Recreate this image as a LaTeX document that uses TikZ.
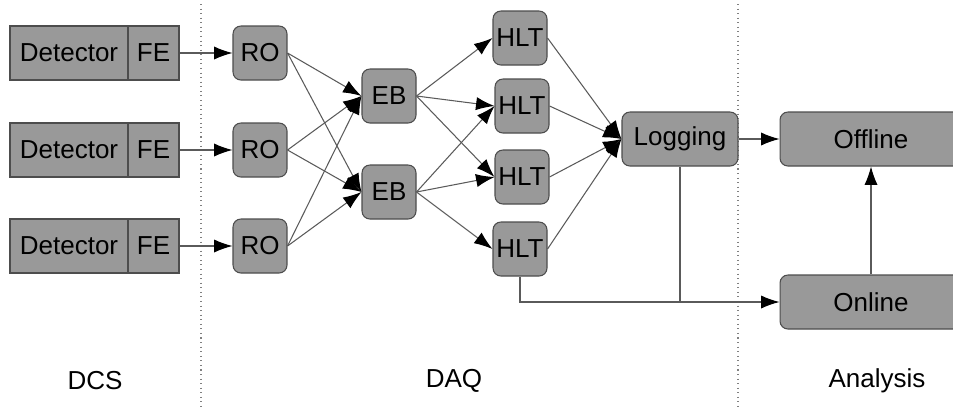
\documentclass[tikz,border=0pt]{standalone}
\usepackage{fontspec}
\setmainfont{Liberation Sans}
\usetikzlibrary{arrows.meta}
\definecolor{boxgray}{HTML}{999999}
\definecolor{edgegray}{HTML}{4D4D4D}
\definecolor{linegray}{HTML}{5A5A5A}
\begin{document}
\begin{tikzpicture}[x=0.02cm, y=-0.02cm,
  box/.style={draw=edgegray, fill=boxgray, line width=0.6pt, inner sep=0pt,
    minimum height=1.08cm, font=\fontsize{14.8pt}{17pt}\selectfont},
  rbox/.style={box, rounded corners=4.5pt, minimum width=1.08cm},
  arr/.style={draw=linegray, line width=0.6pt, -{Latex[length=10.5pt,width=7.5pt,color=black]}},
  ln/.style={draw=linegray, line width=0.6pt},
  sep/.style={draw=gray, dotted, line width=0.6pt},
  lbl/.style={font=\fontsize{14.8pt}{17pt}\selectfont}]
\clip (0,0) rectangle (953,410);
% section separators
\coordinate (s1top) at (201,4);
\coordinate (s1bot) at (201,410);
\coordinate (s2top) at (738,4);
\coordinate (s2bot) at (738,410);
\draw[sep] (s1top) -- (s1bot);
\draw[sep] (s2top) -- (s2bot);
% detectors
\node[box, minimum width=2.36cm] (det1) at (69,53){Detector};
\node[box, minimum width=1.02cm] (fe1) at (153.5,53){FE};
\node[box, minimum width=2.36cm] (det2) at (69,150){Detector};
\node[box, minimum width=1.02cm] (fe2) at (153.5,150){FE};
\node[box, minimum width=2.36cm] (det3) at (69,246){Detector};
\node[box, minimum width=1.02cm] (fe3) at (153.5,246){FE};
% readout
\node[rbox] (ro1) at (260,53){RO};
\node[rbox] (ro2) at (260,150){RO};
\node[rbox] (ro3) at (260,246){RO};
\draw[arr](fe1) -- (ro1);
\draw[arr](fe2) -- (ro2);
\draw[arr](fe3) -- (ro3);
% event builders
\node[rbox] (eb1) at (389,96){EB};
\node[rbox] (eb2) at (389,192){EB};
\draw[arr](ro1.east) -- (eb1.west);
\draw[arr](ro1.east) -- (eb2.west);
\draw[arr](ro2.east) -- (eb1.west);
\draw[arr](ro2.east) -- (eb2.west);
\draw[arr](ro3.east) -- (eb1.west);
\draw[arr](ro3.east) -- (eb2.west);
% high level triggers
\node[rbox] (hlt1) at (520,38){HLT};
\node[rbox] (hlt2) at (522,106){HLT};
\node[rbox] (hlt3) at (522,177){HLT};
\node[rbox] (hlt4) at (520,249){HLT};
\draw[arr](eb1.east) -- (hlt1.west);
\draw[arr](eb1.east) -- (hlt2.west);
\draw[arr](eb1.east) -- (hlt3.west);
\draw[arr](eb2.east) -- (hlt2.west);
\draw[arr](eb2.east) -- (hlt3.west);
\draw[arr](eb2.east) -- (hlt4.west);
% logging and analysis
\node[rbox, minimum width=2.32cm] (logging) at (680,139){Logging};
\node[rbox, minimum width=3.64cm] (offline) at (871,139){Offline};
\node[rbox, minimum width=3.64cm] (online) at (871,302){Online};
\draw[arr](hlt1.east) -- (logging.west);
\draw[arr](hlt2.east) -- (logging.west);
\draw[arr](hlt3.east) -- (logging.west);
\draw[arr](hlt4.east) -- (logging.west);
\draw[arr](logging) -- (offline);
\draw[arr](online) -- (offline);
\draw[arr](hlt4.south) |- (online.west);
\draw[ln](logging.south) -- (logging.south |- online.west);
% section labels
\node[lbl] (dcs) at (95,381){DCS};
\node[lbl] (daq) at (454,381){DAQ};
\node[lbl] (ana) at (877,381){Analysis};
\end{tikzpicture}
\end{document}
